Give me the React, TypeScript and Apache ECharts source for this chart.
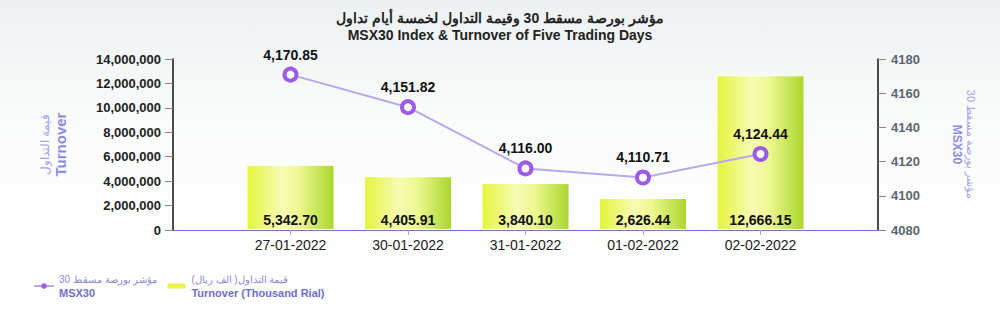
import React, { useEffect, useRef } from "react";
import * as echarts from "echarts";

const dates = ["27-01-2022", "30-01-2022", "31-01-2022", "01-02-2022", "02-02-2022"];
const turnoverThousand = [5342.7, 4405.91, 3840.1, 2626.44, 12666.15];
const msx30 = [4170.85, 4151.82, 4116.0, 4110.71, 4124.44];
const leftTicks = { min: 0, max: 14000000, interval: 2000000 };
const rightTicks = { min: 4080, max: 4180, interval: 20 };

const titleAr = "مؤشر بورصة مسقط 30 وقيمة التداول لخمسة أيام تداول";
const titleEn = "MSX30 Index & Turnover of Five Trading Days";
const lineNameAr = "مؤشر بورصة مسقط 30";
const lineNameEn = "MSX30";
const barNameAr = "قيمة التداول( الف ريال)";
const barNameEn = "Turnover (Thousand Rial)";
const leftAxisAr = "قيمة التداول";
const leftAxisEn = "Turnover";

const fmt2 = (v: number) =>
  v.toLocaleString("en-US", { minimumFractionDigits: 2, maximumFractionDigits: 2 });

export default function App() {
  const ref = useRef<HTMLDivElement>(null);
  useEffect(() => {
    if (!ref.current) return;
    const chart = echarts.init(ref.current, null, { renderer: "svg" });
    const cats = ["", ...dates, ""];
    const barData: any[] = ["-", ...turnoverThousand.map((v) => v * 1000), "-"];
    const lineData: any[] = ["-", ...msx30, "-"];
    const font = "Liberation Sans, Arial, sans-serif";
    chart.setOption({
      animation: false,
      backgroundColor: {
        type: "linear", x: 0, y: 0, x2: 0, y2: 1,
        colorStops: [
          { offset: 0, color: "#edf1f2" },
          { offset: 0.4, color: "#fbfcfc" },
          { offset: 1, color: "#ffffff" },
        ],
      },
      textStyle: { fontFamily: font },
      title: {
        text: titleAr + "\n" + titleEn,
        left: "center",
        top: 4,
        textStyle: {
          fontFamily: "Liberation Sans Narrow, Arial Narrow, Liberation Sans, sans-serif",
          fontSize: 14,
          fontWeight: "bold",
          color: "#222",
          lineHeight: 17,
        },
      },
      legend: {
        left: 28,
        top: 269,
        itemGap: 8,
        itemWidth: 20,
        itemHeight: 7,
        selectedMode: false,
        data: [
          { name: "line", itemStyle: { color: "#9d5ce6", borderWidth: 0 } },
          { name: "bar", itemStyle: { color: "#eaf548" } },
        ],
        formatter: (name: string) =>
          name === "line"
            ? "{a|" + lineNameAr + "}\n{b|" + lineNameEn + "}"
            : "{a|" + barNameAr + "}\n{b|" + barNameEn + "}",
        textStyle: {
          rich: {
            a: { fontSize: 10, color: "#8a8ad8", lineHeight: 13 },
            b: { fontSize: 11, fontWeight: "bold", color: "#6e6ed2", lineHeight: 14 },
          },
        },
      },
      grid: { left: 173, right: 122, top: 59, bottom: 82 },
      xAxis: {
        type: "category",
        data: cats,
        boundaryGap: false,
        axisLine: { lineStyle: { color: "#7070dc", width: 1 } },
        axisTick: {
          show: true,
          length: 5,
          interval: (i: number) => i > 0 && i < cats.length - 1,
          lineStyle: { color: "#aaa" },
        },
        axisLabel: { color: "#222", fontSize: 14, margin: 8, interval: 0 },
        splitLine: { show: false },
      },
      yAxis: [
        {
          type: "value",
          ...leftTicks,
          position: "left",
          name: "{a|" + leftAxisAr + "}\n{b|" + leftAxisEn + "}",
          nameLocation: "middle",
          nameRotate: 90,
          nameGap: 104,
          nameTextStyle: {
            rich: {
              a: { fontSize: 12, color: "#a4a4e4", lineHeight: 15 },
              b: { fontSize: 15, fontWeight: "bold", color: "#8c8ce0", lineHeight: 17 },
            },
          },
          axisLine: { show: true, lineStyle: { color: "#111", width: 1.5 } },
          axisTick: { show: true, length: 8, lineStyle: { color: "#888" } },
          axisLabel: {
            color: "#222",
            fontSize: 13,
            fontWeight: "bold",
            margin: 12,
            formatter: (v: number) => v.toLocaleString("en-US"),
          },
          splitLine: { show: false },
        },
        {
          type: "value",
          ...rightTicks,
          position: "right",
          name: "{a|" + lineNameAr + "}\n{b|" + lineNameEn + "}",
          nameLocation: "middle",
          nameRotate: -90,
          nameGap: 72,
          nameTextStyle: {
            rich: {
              a: { fontSize: 11, color: "#a4a4e4", lineHeight: 13 },
              b: { fontSize: 12, fontWeight: "bold", color: "#8c8ce0", lineHeight: 14 },
            },
          },
          axisLine: { show: true, lineStyle: { color: "#111", width: 1.5 } },
          axisTick: { show: true, length: 8, lineStyle: { color: "#888" } },
          axisLabel: {
            color: "#5b6670",
            fontSize: 13,
            fontWeight: "bold",
            margin: 13,
            formatter: (v: number) => String(v),
          },
          splitLine: { show: false },
        },
      ],
      series: [
        {
          name: "bar",
          type: "bar",
          yAxisIndex: 0,
          data: barData,
          barWidth: 88,
          itemStyle: {
            borderColor: "#ffffff",
            borderWidth: 1,
            color: {
              type: "linear", x: 0, y: 0, x2: 1, y2: 0,
              colorStops: [
                { offset: 0, color: "#e4f43c" },
                { offset: 0.4, color: "#f6fcb4" },
                { offset: 0.6, color: "#eef890" },
                { offset: 1, color: "#aad62c" },
              ],
            },
          },
          label: {
            show: true,
            position: "insideBottom",
            distance: 3,
            color: "#111",
            fontSize: 14,
            fontWeight: "bold",
            formatter: (p: any) => fmt2(p.value / 1000),
          },
          z: 1,
        },
        {
          name: "line",
          type: "line",
          yAxisIndex: 1,
          data: lineData,
          connectNulls: false,
          symbol: "circle",
          symbolSize: 12,
          lineStyle: { color: "#b8a8ec", width: 2 },
          itemStyle: { color: "#ffffff", borderColor: "#9d5ce6", borderWidth: 4 },
          label: {
            show: true,
            position: "top",
            distance: 5,
            color: "#111",
            fontSize: 14,
            fontWeight: "bold",
            formatter: (p: any) => fmt2(p.value),
          },
          z: 3,
        },
      ],
    });
    return () => chart.dispose();
  }, []);
  return <div ref={ref} style={{ width: 1000, height: 312, position: "absolute", left: 0, top: 0 }} />;
}
